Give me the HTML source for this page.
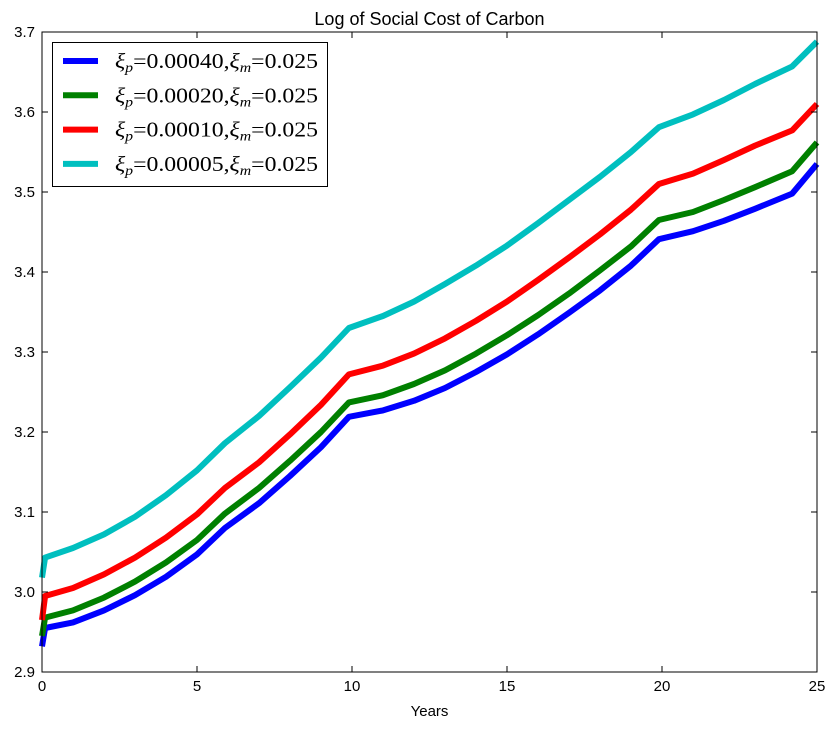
<!DOCTYPE html>
<html><head><meta charset="utf-8"><style>
body{margin:0;background:#fff}
svg text{font-family:"Liberation Sans",sans-serif}
</style></head><body>
<svg id="c" width="837" height="730" xmlns="http://www.w3.org/2000/svg"></svg>
<script>
const years=[0,0.1,1,2,3,4,5,5.9,7,8,9,9.9,11,12,13,14,15,16,17,18,19,19.9,21,22,23,24.2,25];
const seriesBlue=[2.932,2.955,2.962,2.977,2.996,3.019,3.047,3.080,3.111,3.145,3.181,3.219,3.227,3.239,3.255,3.275,3.297,3.322,3.349,3.377,3.408,3.441,3.451,3.464,3.479,3.498,3.535];
const seriesGreen=[2.945,2.968,2.977,2.993,3.013,3.037,3.065,3.098,3.130,3.164,3.200,3.237,3.246,3.260,3.277,3.298,3.321,3.346,3.373,3.402,3.432,3.465,3.475,3.490,3.506,3.526,3.562];
const seriesRed=[2.965,2.995,3.005,3.022,3.043,3.068,3.097,3.130,3.162,3.197,3.234,3.272,3.283,3.298,3.317,3.339,3.363,3.390,3.418,3.447,3.478,3.510,3.523,3.540,3.558,3.577,3.610];
const seriesCyan=[3.018,3.043,3.055,3.072,3.094,3.121,3.152,3.186,3.220,3.256,3.293,3.330,3.345,3.363,3.385,3.408,3.433,3.461,3.490,3.519,3.550,3.581,3.597,3.615,3.635,3.657,3.688];
const xTicks=[0,5,10,15,20,25];
const yTicks=[2.9,3.0,3.1,3.2,3.3,3.4,3.5,3.6,3.7];
const legendLabels=["0.00040","0.00020","0.00010","0.00005"];

const L=42,R=817,T=32,B=672;
const sx=v=>L+(v-0)/25*(R-L);
const sy=v=>B-(v-2.9)/0.8*(B-T);
const svg=document.getElementById('c');
const NS="http://www.w3.org/2000/svg";
function mk(tag,attrs,parent){const e=document.createElementNS(NS,tag);for(const k in attrs)e.setAttribute(k,attrs[k]);(parent||svg).appendChild(e);return e;}

const colors=["#0000ff","#008000","#ff0000","#00bfbf"];
const all=[seriesBlue,seriesGreen,seriesRed,seriesCyan];
const names=["line-xi-p-00040","line-xi-p-00020","line-xi-p-00010","line-xi-p-00005"];
all.forEach((s,i)=>{
  const p=mk('polyline',{points:s.map((v,j)=>sx(years[j])+','+sy(v)).join(' '),fill:'none',stroke:colors[i],'stroke-width':6,'stroke-linejoin':'round'});
  
  
});
const frame=mk('rect',{x:L,y:T,width:R-L,height:B-T,fill:'none',stroke:'#000','stroke-width':1});


xTicks.forEach(t=>{
  const x=sx(t);
  mk('line',{x1:x,x2:x,y1:B,y2:B-6,stroke:'#000'});
  mk('line',{x1:x,x2:x,y1:T,y2:T+6,stroke:'#000'});
  const tx=mk('text',{x:x,y:B+19,'text-anchor':'middle','font-size':15});
  tx.textContent=t;
  
  
});
yTicks.forEach(t=>{
  const y=sy(t);
  mk('line',{x1:L,x2:L+6,y1:y,y2:y,stroke:'#000'});
  mk('line',{x1:R,x2:R-6,y1:y,y2:y,stroke:'#000'});
  const tx=mk('text',{x:L-7,y:y+5,'text-anchor':'end','font-size':15});
  tx.textContent=t.toFixed(1);
  
  
});
const title=mk('text',{x:(L+R)/2,y:25,'text-anchor':'middle','font-size':18});
title.textContent="Log of Social Cost of Carbon";


const xl=mk('text',{x:(L+R)/2,y:716,'text-anchor':'middle','font-size':15});
xl.textContent="Years";



const lg=mk('g',{});


mk('rect',{x:52.5,y:42.5,width:275,height:144,fill:'#fff',stroke:'#000'},lg);
legendLabels.forEach((lab,i)=>{
  const y=61+i*34.3;
  const ent=mk('g',{},lg);
  
  
  mk('line',{x1:63,x2:98,y1:y,y2:y,stroke:colors[i],'stroke-width':6},ent);
  const t=mk('text',{x:115,y:y+7,'font-size':21,textLength:203,lengthAdjust:'spacingAndGlyphs',style:'font-family:"Liberation Serif",serif'},ent);
  t.innerHTML='<tspan font-style="italic">ξ</tspan><tspan font-style="italic" font-size="14" dy="4">p</tspan><tspan dy="-4">=0.00'+lab.slice(4-0).replace(/^/,'').length*0+''+'</tspan>';
  t.innerHTML='<tspan font-style="italic">ξ</tspan><tspan font-style="italic" font-size="14" dy="4">p</tspan><tspan dy="-4">='+lab+',</tspan><tspan font-style="italic">ξ</tspan><tspan font-style="italic" font-size="14" dy="4">m</tspan><tspan dy="-4">=0.025</tspan>';
});
</script>
</body></html>
